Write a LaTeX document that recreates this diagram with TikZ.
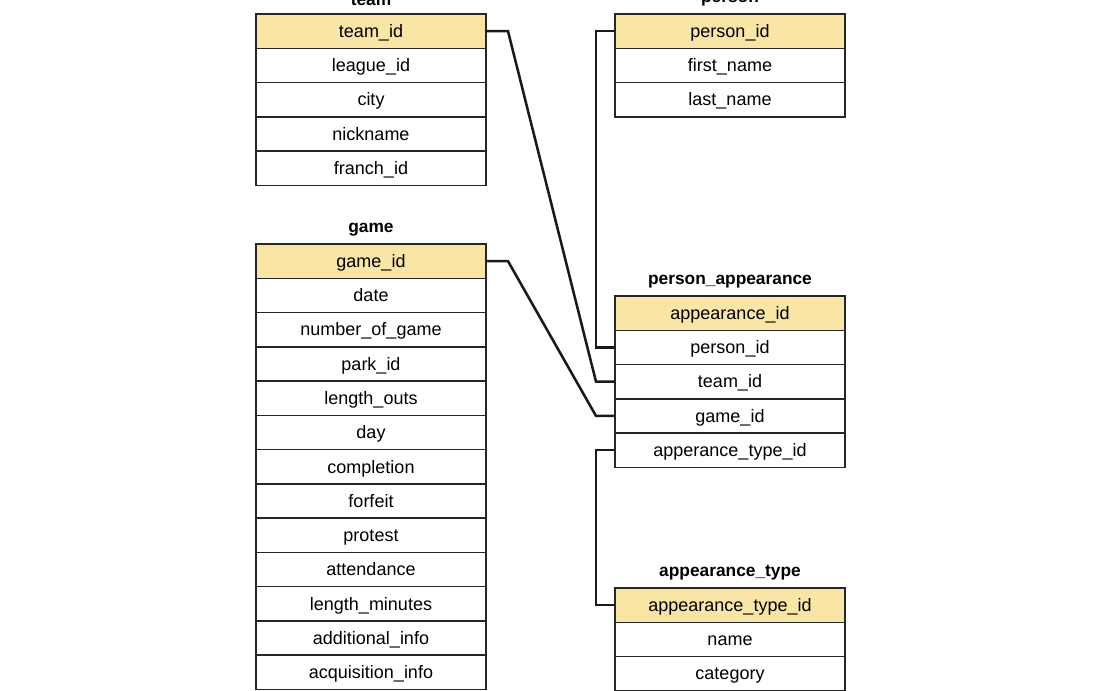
\documentclass[tikz,border=0pt]{standalone}
\usepackage{fontspec}
\setmainfont{Liberation Sans}
\usetikzlibrary{positioning}
\definecolor{keyfill}{RGB}{249,229,166}

\begin{document}
\begin{tikzpicture}[x=0.75pt, y=-0.75pt,
        row/.style = {
            draw=black!85,
            line width=1.1pt,
            fill=white,
            minimum width=172.5pt,
            minimum height=25.7pt,
            text height=11pt,
            text depth=1.6pt,
            inner sep=0pt,
            outer sep=0pt,
            font=\fontsize{13.5}{15}\selectfont
        },
        key/.style = {row, fill=keyfill},
        tabtitle/.style = {inner sep=0pt, font=\fontsize{13}{15}\selectfont\bfseries},
        link/.style = {line width=1.9pt, black!90},
        node distance=0pt]

        \useasboundingbox (0,0) rectangle (1101,691);

        % team
        \node[key] (t1) at (371,31.15) {team\_id};
        \node[row, below=of t1] (t2) {league\_id};
        \node[row, below=of t2] (t3) {city};
        \node[row, below=of t3] (t4) {nickname};
        \node[row, below=of t4] (t5) {franch\_id};
        \node[tabtitle, above=6pt of t1] (team) {team};

        % game
        \node[key] (g1) at (371,261.15) {game\_id};
        \node[row, below=of g1] (g2) {date};
        \node[row, below=of g2] (g3) {number\_of\_game};
        \node[row, below=of g3] (g4) {park\_id};
        \node[row, below=of g4] (g5) {length\_outs};
        \node[row, below=of g5] (g6) {day};
        \node[row, below=of g6] (g7) {completion};
        \node[row, below=of g7] (g8) {forfeit};
        \node[row, below=of g8] (g9) {protest};
        \node[row, below=of g9] (g10) {attendance};
        \node[row, below=of g10] (g11) {length\_minutes};
        \node[row, below=of g11] (g12) {additional\_info};
        \node[row, below=of g12] (g13) {acquisition\_info};
        \node[tabtitle, above=6pt of g1] (game) {game};

        % person
        \node[key] (p1) at (730,31.15) {person\_id};
        \node[row, below=of p1] (p2) {first\_name};
        \node[row, below=of p2] (p3) {last\_name};
        \node[tabtitle, above=6pt of p1] (person) {person};

        % person_appearance
        \node[key] (pa1) at (730,313.15) {appearance\_id};
        \node[row, below=of pa1] (pa2) {person\_id};
        \node[row, below=of pa2] (pa3) {team\_id};
        \node[row, below=of pa3] (pa4) {game\_id};
        \node[row, below=of pa4] (pa5) {apperance\_type\_id};
        \node[tabtitle, above=6pt of pa1] (pappear) {person\_appearance};

        % appearance_type
        \node[key] (at1) at (730,605.15) {appearance\_type\_id};
        \node[row, below=of at1] (at2) {name};
        \node[row, below=of at2] (at3) {category};
        \node[tabtitle, above=6pt of at1] (atype) {appearance\_type};

        \draw[link] (t1.east) -- ++(22,0) -- ([xshift=-14.25pt]pa3.west) -- (pa3.west);
        \draw[link] (g1.east) -- ++(22,0) -- ([xshift=-14.25pt]pa4.west) -- (pa4.west);
        \draw[link] (p1.west) -- ++(-19,0) |- (pa2.west);
        \draw[link] (pa5.west) -- ++(-19,0) |- (at1.west);
    \end{tikzpicture}
\end{document}
